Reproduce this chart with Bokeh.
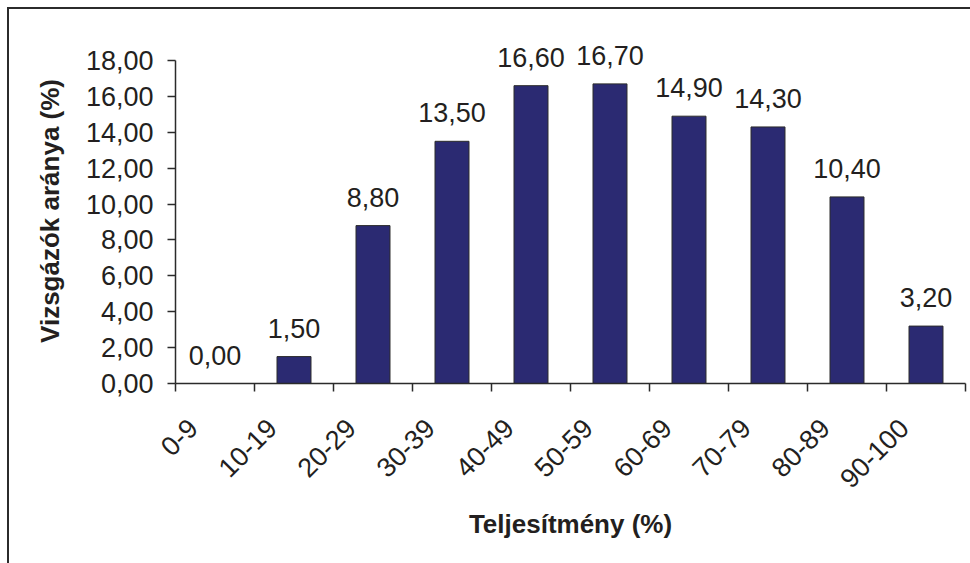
import math
from bokeh.plotting import figure
from bokeh.models import ColumnDataSource, FixedTicker, LabelSet, Range1d
from bokeh.core.properties import value
from bokeh.embed import file_html
from bokeh.resources import INLINE

categories = ["0-9", "10-19", "20-29", "30-39", "40-49", "50-59", "60-69", "70-79", "80-89", "90-100"]
values = [0.0, 1.5, 8.8, 13.5, 16.6, 16.7, 14.9, 14.3, 10.4, 3.2]
value_labels = ["0,00", "1,50", "8,80", "13,50", "16,60", "16,70", "14,90", "14,30", "10,40", "3,20"]
y_ticks = [0, 2, 4, 6, 8, 10, 12, 14, 16, 18]
y_tick_labels = ["0,00", "2,00", "4,00", "6,00", "8,00", "10,00", "12,00", "14,00", "16,00", "18,00"]
x_title = "Teljesítmény (%)"
y_title = "Vizsgázók aránya (%)"

FONT = "Liberation Sans"
TEXT = "#231f20"
LINE = "#2b2b2b"
BAR = "#2b2a72"
LABEL_SHIFT = 0.28  # horizontal placement of rotated category labels (layout only)

n = len(categories)
centers = [i + 0.5 for i in range(n)]
label_pos = [c - LABEL_SHIFT for c in centers]
src = ColumnDataSource(dict(x=centers, top=values, label=value_labels))

p = figure(frame_width=790, frame_height=345,
           x_range=Range1d(0, n), y_range=Range1d(0, 19.23),
           output_backend="svg", toolbar_location=None,
           min_border_left=166, min_border_right=5, min_border_top=29, min_border_bottom=180)
p.styles = {"border-left": f"2px solid {LINE}", "border-top": f"2px solid {LINE}",
            "margin-left": "7px", "margin-top": "7px"}
p.xgrid.visible = False
p.ygrid.visible = False
p.outline_line_color = None
p.background_fill_color = "white"
p.border_fill_color = "white"

p.vbar(x="x", top="top", width=0.43, source=src, fill_color=BAR, line_color=LINE, line_width=1)

labels = LabelSet(x="x", y="top", text="label", source=src, y_offset=19,
                  text_align="center", text_baseline="alphabetic",
                  text_font=value(FONT), text_font_size=value("27px"), text_color=value(TEXT))
p.add_layout(labels)

ya = p.yaxis[0]
ya.ticker = FixedTicker(ticks=y_ticks, minor_ticks=[])
ya.major_label_overrides = dict(zip(y_ticks, y_tick_labels))
ya.bounds = (0, 18)
ya.axis_line_color = LINE
ya.axis_line_width = 1.5
ya.major_tick_line_color = LINE
ya.major_tick_line_width = 1.5
ya.major_tick_in = 0
ya.major_tick_out = 8
ya.minor_tick_line_color = None
ya.major_label_standoff = 14
ya.major_label_text_font = FONT
ya.major_label_text_font_size = "27px"
ya.major_label_text_color = TEXT
ya.axis_label = y_title
ya.axis_label_text_font = FONT
ya.axis_label_text_font_style = "bold"
ya.axis_label_text_font_size = "26px"
ya.axis_label_text_color = TEXT
ya.axis_label_standoff = 18

xa = p.xaxis[0]
xa.ticker = FixedTicker(ticks=label_pos, minor_ticks=list(range(n + 1)))
xa.major_label_overrides = dict(zip(label_pos, categories))
xa.axis_line_color = LINE
xa.axis_line_width = 1.5
xa.major_tick_line_color = None
xa.major_tick_in = 0
xa.major_tick_out = 8
xa.minor_tick_line_color = LINE
xa.minor_tick_line_width = 1.5
xa.minor_tick_in = 0
xa.minor_tick_out = 8
xa.major_label_orientation = math.pi / 4
xa.major_label_standoff = 32
xa.major_label_text_font = FONT
xa.major_label_text_font_size = "27px"
xa.major_label_text_color = TEXT
xa.axis_label = x_title
xa.axis_label_text_font = FONT
xa.axis_label_text_font_style = "bold"
xa.axis_label_text_font_size = "26px"
xa.axis_label_text_color = TEXT
xa.axis_label_standoff = 10

open("out.html", "w").write(file_html(p, INLINE))
